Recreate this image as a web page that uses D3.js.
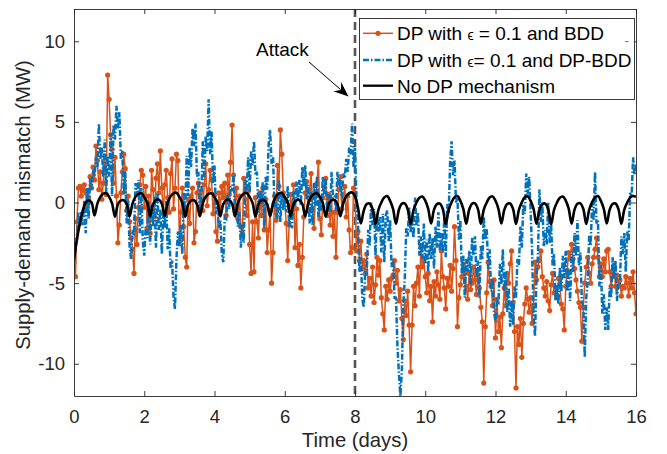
<!DOCTYPE html>
<html>
<head>
<meta charset="utf-8">
<script src="https://cdn.jsdelivr.net/npm/d3@7"></script>
<style>
  body { margin: 0; background: #fff; }
  svg { font-family: "Liberation Sans", Arial, Helvetica, sans-serif; }
</style>
</head>
<body>
<svg></svg>
<script>
// noisy series are hourly (24 per day), the no-DP curve every 2 hours, days 0..16

const noisyPerDay = 24
const smoothPerDay = 12

const xTicks = [0, 2, 4, 6, 8, 10, 12, 14, 16]
const yTicks = [-10, -5, 0, 5, 10]
const attackDay = 8

const seriesNames = ["DP with ", "DP with ", "No DP mechanism"]

// DP with eps = 0.1 and BDD
const bddValues = [
    -3.7, -4.6, -1.2, 0.9, 1.0, 0.4, 0.8, 1.1, 0.6, -0.2, 0.3, 1.6, 0.9, 2.2, 1.4, 3.5, 2.6, 0.8, 1.9, 0.2, 1.2, 2.9, 0.5, 7.9,
    6.4, 4.2, 3.3, 1.2, 2.8, 0.4, -2.5, -1.4, 0.6, 1.9, 3.0, 2.1, -0.5, 0.4, -1.2, -2.2, -2.9, -4.4, -1.0, -2.6, -0.3, 1.1, 2.0, 1.7,
    -0.3, 1.0, -1.6, 0.4, -1.9, 2.0, 0.8, -0.9, 1.5, 2.4, 0.6, 3.2, 0.9, -0.7, 1.1, 2.0, 0.3, -0.6, 1.8, 2.7, -0.4, 0.9, 3.0, 2.6,
    -2.4, -0.6, 0.9, -1.5, -3.4, -4.0, 0.2, -1.3, 0.4, 0.9, -2.5, -1.8, 0.6, 1.2, -0.3, 0.7, -0.5, 1.1, 2.4, -0.2, 0.8, 2.0, 1.4, -0.7,
    0.5, -1.8, -2.4, 0.6, -0.4, 1.0, 0.3, 1.2, -0.8, 1.7, 0.5, 2.5, 4.8, 1.7, -0.2, 0.9, -1.0, 0.4, -1.5, -1.9, 1.5, 0.2, -0.8, 0.7,
    -2.6, -4.4, -1.2, -4.3, 0.3, -1.2, -2.2, 0.6, -0.8, 0.9, -1.7, 0.2, -3.1, -1.7, -0.5, -5.0, -3.1, 0.4, -1.1, 2.3, 1.0, 4.5, 3.0, 0.6,
    0.2, -1.3, -3.6, -1.4, 0.5, -0.7, 1.1, -2.8, -0.4, -3.9, -2.6, -5.3, -3.4, -0.9, 0.6, 1.3, -0.5, 0.8, 1.8, -0.5, -1.6, 0.4, 1.2, 2.5,
    -1.0, -2.0, 0.3, 0.9, 1.5, -0.8, 0.5, -1.4, 0.2, -2.1, -0.6, -3.4, -0.6, 0.8, 1.6, -0.4, 0.2, 1.0, -0.9, 0.4, -1.7, -3.1, -2.8, 0.9,
    0.6, -3.0, -1.8, -3.6, -2.4, -4.1, -3.6, -4.4, -3.2, -5.3, -4.7, -5.8, -4.0, -6.2, -5.1, -3.4, -4.5, -3.6, -5.9, -6.9, -7.9, -5.2, -6.0, -4.8,
    -5.5, -4.7, -4.5, -3.6, -5.0, -4.2, -6.1, -5.4, -7.2, -8.5, -6.1, -7.0, -5.5, -7.6, -10.5, -7.6, -5.2, -6.4, -5.0, -4.0, -5.8, -2.8, -4.0, -3.5,
    -4.6, -5.6, -4.4, -6.1, -5.2, -7.4, -4.9, -5.8, -4.3, -5.1, -6.0, -3.0, -4.6, -5.3, -6.6, -4.7, -5.2, -3.9, -5.5, -4.1, -1.5, -3.6, -7.7, -5.9,
    -5.1, -4.6, -3.8, -4.4, -5.2, -6.0, -4.4, -5.4, -5.0, -4.0, -4.8, -5.7, -4.5, -5.3, -6.5, -7.4, -11.2, -7.7, -5.6, -3.7, -4.9, -5.2, -6.4, -4.8,
    -8.4, -6.0, -8.0, -7.1, -9.0, -6.9, -5.3, -6.4, -4.4, -5.0, -3.8, -3.0, -6.2, -8.0, -11.5, -7.7, -8.8, -7.2, -9.6, -7.5, -6.3, -5.3, -6.0, -6.8,
    -5.9, -7.5, -6.4, -3.7, -4.8, -4.0, -3.6, -3.0, -4.6, -5.3, -5.8, -4.9, -6.1, -6.7, -5.1, -4.4, -5.6, -5.4, -5.9, -4.7, -5.2, -6.3, -6.6, -7.9,
    -5.2, -4.2, -3.1, -3.5, -2.6, -3.5, -4.1, -4.8, -5.5, -6.2, -6.5, -8.6, -6.5, -5.0, -4.0, -3.4, -4.4, -5.0, -3.8, -3.4, -2.9, -2.2, -3.4, -4.6,
    -3.8, -4.6, -3.5, -4.3, -3.0, -2.9, -4.3, -5.2, -4.6, -3.9, -5.2, -4.5, -5.2, -4.8, -5.8, -5.2, -5.3, -4.6, -5.0, -5.8, -4.7, -5.3, -4.3, -5.6,
    -6.9
]

// DP with eps = 0.1 and DP-BDD
const dpbddValues = [
    -3.5, -2.2, -2.4, -0.6, -1.5, -0.6, -1.4, 0.1, -1.9, 0.9, -1.0, 1.5, 0.8, 2.0, 1.6, 2.8, 2.2, 4.9, 2.7, 3.4, 1.6, 3.9, 0.6, 2.9,
    1.6, 4.3, 0.4, 4.8, 3.9, 6.0, 4.6, 5.6, 2.7, 3.2, 0.5, 1.9, -1.3, 0.1, -2.8, -3.5, -1.7, -2.1, 1.2, 0.4, 1.4, -1.9, 0.9, -2.4,
    -3.3, -1.5, -2.2, 0.1, -2.6, -0.2, -1.5, 0.4, -2.8, 0.6, -1.7, -0.4, -3.2, -0.7, -1.6, 0.1, -2.9, -1.6, -4.1, -3.6, -5.9, -6.6, -3.5, -1.8,
    -2.7, -1.4, -3.2, 0.6, -0.6, 2.9, 0.4, 3.4, 2.2, 4.6, 3.5, 4.9, 1.6, 1.9, -0.8, 0.2, 3.8, 1.4, 4.1, 3.2, 6.4, 3.0, 4.4, 1.2,
    2.3, -0.7, -0.2, -1.6, -1.1, -3.2, -3.7, -0.9, -1.0, 0.5, -0.4, 1.0, 0.7, 1.8, -0.6, -0.1, -1.5, -0.6, -2.8, -1.4, -2.5, 1.4, 0.8, 2.8,
    0.6, 3.2, 2.3, 3.8, 1.7, 1.9, -0.6, 0.7, -0.1, 1.3, -1.6, 1.6, 0.8, 3.6, 4.5, 2.4, 2.8, -0.3, 0.1, -1.0, 1.4, -1.2, 0.6, -0.5,
    0.4, -0.6, 1.0, -1.5, -0.4, -1.6, 0.7, -0.3, 1.3, 0.2, 1.4, -0.2, 2.2, 1.0, 2.3, 0.2, 1.1, -1.3, 0.7, -1.4, 1.2, -0.2, 1.6, -0.9,
    0.2, -0.5, 1.6, 0.5, 1.5, -0.6, 0.5, -0.6, 1.9, 0.4, 0.4, -0.5, 1.9, 0.9, 1.4, 0.3, 1.8, 1.5, 2.7, 1.9, 3.4, 3.0, 4.9, 2.2,
    3.4, 0.1, -1.2, -4.3, -3.4, -6.0, -6.5, -4.2, -4.5, -1.7, -2.7, 0.0, -1.4, -0.4, -3.3, -0.7, -1.8, -0.9, -3.1, -0.7, -3.7, -0.8, -0.5, -2.4,
    -1.1, -4.0, -3.5, -5.9, -5.9, -8.9, -10.6, -12.0, -10.5, -6.3, -4.8, -1.6, -2.1, -0.3, -1.9, -1.1, -2.2, 0.3, -1.4, -0.6, -3.3, -2.1, -3.5, -1.3,
    -3.8, -2.3, -4.3, -1.9, -3.5, -2.2, -4.1, -1.5, -2.8, -0.6, -3.0, -1.9, -3.1, -0.9, -3.4, -0.1, -0.7, 2.5, 3.8, 1.7, 2.6, 0.0, 0.3, -2.3,
    -1.1, -4.4, -3.3, -5.9, -3.5, -4.3, -3.0, -5.1, -2.2, -3.3, -2.1, -4.7, -3.6, -5.9, -2.7, -3.5, -0.9, -2.3, -1.6, -4.1, -2.9, -5.5, -4.7, -6.8,
    -7.4, -6.1, -6.2, -3.8, -5.1, -2.9, -5.5, -4.3, -6.8, -5.3, -7.7, -6.1, -7.6, -5.2, -5.9, -3.5, -3.9, -1.5, -2.8, -0.1, -0.7, 1.8, 0.5, 1.6,
    -0.5, -3.1, -7.0, -8.3, -4.6, -3.3, 0.8, -1.2, -0.1, -2.7, -1.7, -2.6, 0.0, -2.5, -1.3, -3.9, -3.2, -6.1, -5.1, -6.3, -4.0, -5.5, -3.3, -4.7,
    -3.0, -5.5, -4.1, -6.1, -3.2, -4.3, -1.9, -3.3, -1.1, -3.9, -3.1, -6.1, -6.5, -9.6, -5.9, -4.9, -2.0, -2.7, -0.1, -1.1, 1.9, -1.3, -1.1, -5.2,
    -3.9, -6.9, -5.7, -7.9, -6.5, -7.9, -5.3, -5.9, -3.4, -4.7, -3.6, -6.1, -5.0, -5.0, -2.1, -3.2, -1.9, -4.3, -1.8, -2.4, 0.6, 0.3, 2.8, 1.7,
    2.4
]

// No DP mechanism
const noDpValues = [
    -3.6, -2.3, -1.3, -0.5, 0.0, 0.14, 0.0, -0.8, -0.05, 0.35, 0.55, 0.58,
    0.35, -0.05, -0.88, -0.1, 0.12, 0.14, -0.1, -0.85, -0.05, 0.35, 0.54, 0.57,
    0.33, 0.0, -0.85, -0.1, 0.15, 0.18, -0.08, -0.85, -0.02, 0.38, 0.57, 0.6,
    0.35, -0.03, -0.88, -0.12, 0.12, 0.14, -0.1, -0.85, -0.05, 0.35, 0.53, 0.57,
    0.33, 0.0, -0.86, -0.1, 0.15, 0.16, -0.08, -0.86, -0.04, 0.36, 0.55, 0.58,
    0.35, -0.02, -0.87, -0.1, 0.13, 0.15, -0.1, -0.85, -0.03, 0.37, 0.56, 0.59,
    0.34, 0.0, -0.86, -0.11, 0.14, 0.15, -0.09, -0.86, -0.05, 0.35, 0.54, 0.57,
    0.35, -0.02, -0.87, -0.1, 0.14, 0.16, -0.09, -0.85, -0.03, 0.38, 0.58, 0.62,
    0.4, -0.3, -1.3, -0.5, -0.1, -0.06, -0.4, -1.35, -0.45, 0.0, 0.32, 0.4,
    0.1, -0.4, -1.32, -0.45, -0.08, -0.06, -0.42, -1.33, -0.45, 0.0, 0.3, 0.37,
    0.12, -0.38, -1.3, -0.44, -0.1, -0.07, -0.4, -1.34, -0.46, 0.02, 0.33, 0.4,
    0.1, -0.4, -1.31, -0.45, -0.08, -0.05, -0.41, -1.32, -0.44, 0.0, 0.31, 0.38,
    0.11, -0.39, -1.3, -0.46, -0.09, -0.06, -0.4, -1.33, -0.45, 0.01, 0.32, 0.39,
    0.1, -0.4, -1.32, -0.45, -0.1, -0.07, -0.42, -1.34, -0.46, 0.0, 0.3, 0.37,
    0.12, -0.38, -1.31, -0.44, -0.08, -0.05, -0.4, -1.33, -0.45, 0.02, 0.32, 0.4,
    0.1, -0.4, -1.3, -0.45, -0.09, -0.06, -0.41, -1.32, -0.44, 0.0, 0.3, 0.4,
    0.35
]

const orange = "#D95319"
const blue = "#0072BD"
const axisColor = "#262626"
const blueDash = "6,2,1.5,2"

const svg = d3.select("svg")
    .attr("width", 667)
    .attr("height", 454)

const plotLeft = 74, plotRight = 636, plotTop = 9, plotBottom = 396

const scaleX = d3.scaleLinear().domain([0, 16]).range([plotLeft, plotRight])
const scaleY = d3.scaleLinear().domain([-12, 12]).range([plotBottom, plotTop])

const toPoints = (values, perDay) => values.map((v, i) => ({t: i / perDay, v: v}))

svg.append("defs").append("clipPath")
    .attr("id", "plotclip")
    .append("rect")
    .attr("x", plotLeft).attr("y", plotTop)
    .attr("width", plotRight - plotLeft).attr("height", plotBottom - plotTop)

const plot = svg.append("g").attr("clip-path", "url(#plotclip)")

const line = d3.line()
    .x(d => scaleX(d.t))
    .y(d => scaleY(d.v))

// attack marker
plot.append("line")
    .attr("x1", scaleX(attackDay)).attr("x2", scaleX(attackDay))
    .attr("y1", plotTop).attr("y2", plotBottom)
    .attr("stroke", "#555")
    .attr("stroke-width", 2.6)
    .attr("stroke-dasharray", "8,5")

// BDD series with dots
const bddPoints = toPoints(bddValues, noisyPerDay)
plot.append("path")
    .attr("d", line(bddPoints))
    .attr("fill", "none")
    .attr("stroke", orange)
    .attr("stroke-width", 1.5)

plot.selectAll("circle.bdd")
    .data(bddPoints)
    .enter()
    .append("circle")
    .attr("class", "bdd")
    .attr("cx", d => scaleX(d.t))
    .attr("cy", d => scaleY(d.v))
    .attr("r", 2.6)
    .attr("fill", orange)

// DP-BDD series, dash-dot
plot.append("path")
    .attr("d", line(toPoints(dpbddValues, noisyPerDay)))
    .attr("fill", "none")
    .attr("stroke", blue)
    .attr("stroke-width", 2.5)
    .attr("stroke-dasharray", blueDash)

// no DP
plot.append("path")
    .attr("d", line.curve(d3.curveCatmullRom)(toPoints(noDpValues, smoothPerDay)))
    .attr("fill", "none")
    .attr("stroke", "#000")
    .attr("stroke-width", 2.6)

// axes, ticks pointing inwards
const styleAxis = (g) => {
    g.attr("font-family", null)
    g.selectAll("path.domain").attr("stroke", axisColor).attr("stroke-width", 0.9)
    g.selectAll(".tick line").attr("stroke", axisColor).attr("stroke-width", 0.9)
    g.selectAll(".tick text")
        .attr("fill", axisColor)
        .style("font-size", "18.5px")
}

const plainNumber = d => String(d)

svg.append("g")
    .attr("transform", `translate(0,${plotBottom})`)
    .call(d3.axisBottom(scaleX).tickValues(xTicks).tickFormat(plainNumber).tickSize(-5).tickSizeOuter(0).tickPadding(14))
    .call(styleAxis)

svg.append("g")
    .attr("transform", `translate(0,${plotTop})`)
    .call(d3.axisTop(scaleX).tickValues(xTicks).tickSize(-5).tickSizeOuter(0).tickFormat(""))
    .call(styleAxis)

svg.append("g")
    .attr("transform", `translate(${plotLeft},0)`)
    .call(d3.axisLeft(scaleY).tickValues(yTicks).tickFormat(plainNumber).tickSize(-5).tickSizeOuter(0).tickPadding(9))
    .call(styleAxis)

svg.append("g")
    .attr("transform", `translate(${plotRight},0)`)
    .call(d3.axisRight(scaleY).tickValues(yTicks).tickSize(-5).tickSizeOuter(0).tickFormat(""))
    .call(styleAxis)

// axis titles
svg.append("text")
    .attr("x", (plotLeft + plotRight) / 2)
    .attr("y", 447)
    .attr("text-anchor", "middle")
    .attr("fill", axisColor)
    .style("font-size", "20.3px")
    .text("Time (days)")

svg.append("text")
    .attr("transform", "translate(29.5,205) rotate(-90)")
    .attr("text-anchor", "middle")
    .attr("fill", axisColor)
    .style("font-size", "20.3px")
    .text("Supply-demand mismatch (MW)")

// annotation
svg.append("text")
    .attr("x", 256)
    .attr("y", 56)
    .style("font-size", "19px")
    .attr("fill", "#000")
    .text("Attack")

const ax0 = 309, ay0 = 62, ax1 = 348.5, ay1 = 96.5
svg.append("line")
    .attr("x1", ax0).attr("y1", ay0)
    .attr("x2", ax1 - 8).attr("y2", ay1 - 7)
    .attr("stroke", "#000")
    .attr("stroke-width", 1)

const ang = Math.atan2(ay1 - ay0, ax1 - ax0)
const headLen = 15, headW = 6, back = 10
const rot = (dx, dy) => [ax1 + dx * Math.cos(ang) - dy * Math.sin(ang), ay1 + dx * Math.sin(ang) + dy * Math.cos(ang)]
svg.append("path")
    .attr("d", "M" + [rot(0, 0), rot(-headLen, -headW), rot(-back, 0), rot(-headLen, headW)].join("L") + "Z")
    .attr("fill", "#000")

// legend
const legend = svg.append("g")
legend.append("rect")
    .attr("x", 359.5).attr("y", 18.5)
    .attr("width", 275).attr("height", 81)
    .attr("fill", "#fff")
    .attr("stroke", axisColor)
    .attr("stroke-width", 0.9)

const rowsY = [33.3, 60, 85.7]

legend.append("line")
    .attr("x1", 363).attr("x2", 393).attr("y1", rowsY[0]).attr("y2", rowsY[0])
    .attr("stroke", orange).attr("stroke-width", 1.5)
legend.append("circle")
    .attr("cx", 378).attr("cy", rowsY[0]).attr("r", 2.6).attr("fill", orange)

legend.append("line")
    .attr("x1", 363).attr("x2", 393).attr("y1", rowsY[1]).attr("y2", rowsY[1])
    .attr("stroke", blue).attr("stroke-width", 2.5).attr("stroke-dasharray", blueDash)

legend.append("line")
    .attr("x1", 363).attr("x2", 393).attr("y1", rowsY[2]).attr("y2", rowsY[2])
    .attr("stroke", "#000").attr("stroke-width", 2.3)

const t1 = legend.append("text").attr("x", 397).attr("y", rowsY[0] + 6.8).style("font-size", "19px")
t1.append("tspan").text(seriesNames[0])
t1.append("tspan").style("font-size", "14px").text("\u03F5")
t1.append("tspan").text(" = 0.1 and BDD")

const t2 = legend.append("text").attr("x", 397).attr("y", rowsY[1] + 6.8).style("font-size", "19px")
t2.append("tspan").text(seriesNames[1])
t2.append("tspan").style("font-size", "14px").text("\u03F5")
t2.append("tspan").text("= 0.1 and DP-BDD")

legend.append("text").attr("x", 397).attr("y", rowsY[2] + 6.8).style("font-size", "19px")
    .text(seriesNames[2])

// small stray mark inside the legend box
legend.append("line")
    .attr("x1", 625).attr("x2", 628.5).attr("y1", 41.5).attr("y2", 41.5)
    .attr("stroke", "#777").attr("stroke-width", 1)
</script>
</body>
</html>
